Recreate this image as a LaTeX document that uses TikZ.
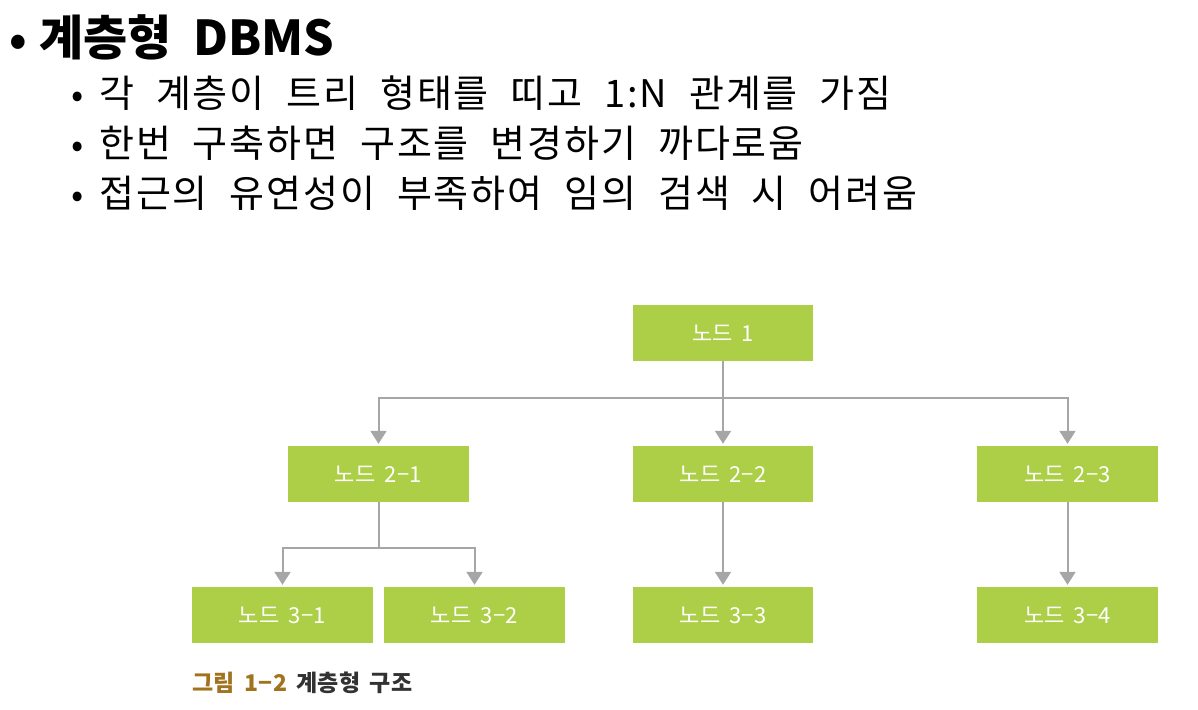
\documentclass[tikz,border=0pt]{standalone}
\usepackage{fontspec}
\setmainfont{Noto Sans CJK KR}
\newfontfamily\kr{Noto Sans CJK KR}
\newfontfamily\krsub[WordSpace=2.1,LetterSpace=5]{Noto Sans CJK KR}
\newfontfamily\krtitle[WordSpace=1.4]{Noto Sans CJK KR}
\newfontfamily\krbox[WordSpace=1.8,LetterSpace=2]{Noto Sans CJK KR}
\newfontfamily\krcap[WordSpace=1.6,LetterSpace=2]{Noto Sans CJK KR}
\usetikzlibrary{arrows.meta}
\definecolor{boxgreen}{RGB}{173,207,72}
\definecolor{linegray}{RGB}{166,166,166}
\definecolor{capgold}{RGB}{160,115,30}
\definecolor{capdark}{RGB}{50,50,50}
\tikzset{
  box/.style={fill=boxgreen, draw=none, minimum width=180.5pt, minimum height=56pt, inner sep=0pt,
    text=white, font=\krbox\fontsize{22}{24}\selectfont},
  conn/.style={draw=linegray, line width=2pt},
  arr/.style={conn, -{Triangle[width=16pt,length=13pt]}, shorten >=2pt},
  title/.style={anchor=base west, inner sep=0pt, font=\krtitle\bfseries\fontsize{48}{50}\selectfont},
  sub/.style={anchor=base west, inner sep=0pt, font=\krsub\fontsize{38}{40}\selectfont},
}
\newcommand{\titlebul}{\makebox[30pt][l]{{\kr\fontsize{44}{44}\selectfont•}}}
\newcommand{\subbul}{\makebox[28pt][l]{{\kr\fontsize{36}{36}\selectfont•}}}
\begin{document}
\begin{tikzpicture}[x=1pt,y=-1pt]
\useasboundingbox (0,0) rectangle (1198,709);
% text
\node[title] (t0) at (9,56) {\titlebul 계층형 DBMS};
\node[sub] (t1) at (71,107) {\subbul 각 계층이 트리 형태를 띠고 1:N 관계를 가짐};
\node[sub] (t2) at (71,157) {\subbul 한번 구축하면 구조를 변경하기 까다로움};
\node[sub] (t3) at (71,207) {\subbul 접근의 유연성이 부족하여 임의 검색 시 어려움};
% boxes
\node[box] (n1) at (723,333) {노드 1};
\node[box] (n21) at (378.5,474) {노드 2−1};
\node[box] (n22) at (723,474) {노드 2−2};
\node[box] (n23) at (1067.5,474) {노드 2−3};
\node[box] (n31) at (282.5,615) {노드 3−1};
\node[box] (n32) at (474.5,615) {노드 3−2};
\node[box] (n33) at (723,615) {노드 3−3};
\node[box] (n34) at (1067.5,615) {노드 3−4};
% junctions
\coordinate (j1) at (723,398);
\coordinate (j2) at (378.5,548);
% connectors
\draw[conn] (n1.south) -- (j1);
\draw[arr] (j1) -| (n21.north);
\draw[arr] (j1) -- (n22.north);
\draw[arr] (j1) -| (n23.north);
\draw[conn] (n21.south) -- (j2);
\draw[arr] (j2) -| (n31.north);
\draw[arr] (j2) -| (n32.north);
\draw[arr] (n22.south) -- (n33.north);
\draw[arr] (n23.south) -- (n34.north);
% caption
\node[anchor=west, inner sep=0pt, font=\krcap\bfseries\fontsize{23}{24}\selectfont] (cap) at (192,683)
  {\textcolor{capgold}{그림 1−2} \textcolor{capdark}{계층형 구조}};
\end{tikzpicture}
\end{document}
